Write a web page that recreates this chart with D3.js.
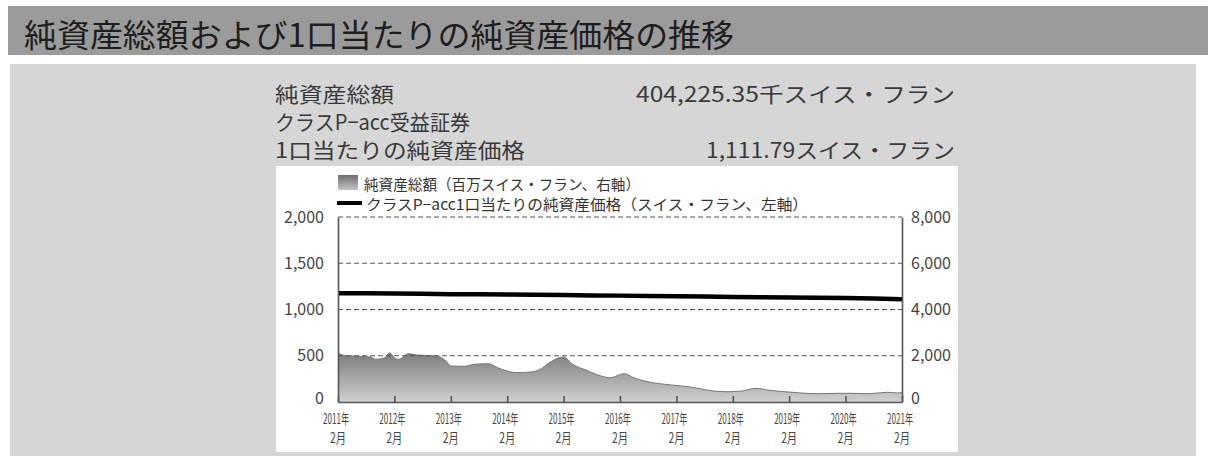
<!DOCTYPE html>
<html><head><meta charset="utf-8">
<script src="https://cdn.jsdelivr.net/npm/d3@7/dist/d3.min.js"></script>
<style>
body{margin:0;background:#fff;}
svg{display:block;font-family:"Noto Sans CJK JP","Noto Sans",sans-serif;}
</style>
</head><body>
<svg id="c" width="1208" height="468"></svg>
<script>
// ---- data ----
const titleText = "純資産総額および1口当たりの純資産価格の推移";
const infoLabels = ["純資産総額", "クラスP−acc受益証券", "1口当たりの純資産価格"];
const infoValues = ["404,225.35千スイス・フラン", "", "1,111.79スイス・フラン"];
const legendLabels = ["純資産総額（百万スイス・フラン、右軸）", "クラスP−acc1口当たりの純資産価格（スイス・フラン、左軸）"];

// net assets, million CHF (right axis)
const assetDates = ["2011-02","2011-03","2011-05","2011-09","2011-10","2011-12","2012-01","2012-02","2012-03","2012-05","2012-07","2012-11","2013-01","2013-02","2013-05","2013-07","2013-10","2013-12","2014-02","2014-04","2014-07","2014-09","2014-11","2015-02","2015-04","2015-07","2015-10","2015-12","2016-03","2016-05","2016-09","2017-01","2017-05","2017-10","2018-01","2018-04","2018-07","2018-10","2019-02","2019-08","2020-01","2020-03","2020-07","2020-11","2021-01","2021-02"];
const assetValues = [2130,2030,1990,1945,1845,1915,2130,1915,1845,2090,2030,1990,1770,1555,1545,1630,1655,1485,1340,1270,1295,1410,1700,1945,1630,1370,1125,1050,1225,1050,835,735,650,475,445,475,590,505,430,360,375,375,360,420,390,404];

// NAV per unit, CHF (left axis)
const priceDates = ["2011-02","2011-08","2012-02","2012-08","2013-02","2013-08","2014-02","2014-08","2015-02","2015-08","2016-02","2016-08","2017-02","2017-08","2018-02","2018-08","2019-02","2019-08","2020-02","2020-08","2021-02"];
const priceValues = [1176,1175,1174,1171,1166,1164,1162,1160,1158,1152,1150,1146,1143,1140,1136,1133,1130,1126,1123,1118,1112];

const xTickDates = ["2011-02","2012-02","2013-02","2014-02","2015-02","2016-02","2017-02","2018-02","2019-02","2020-02","2021-02"];
const xTickYears = ["2011年","2012年","2013年","2014年","2015年","2016年","2017年","2018年","2019年","2020年","2021年"];
const xTickMonths = ["2月","2月","2月","2月","2月","2月","2月","2月","2月","2月","2月"];
const leftTicks = [0,500,1000,1500,2000];
const rightTicks = [0,2000,4000,6000,8000];
const gridValues = [500,1000,1500,2000];

// ---- drawing ----
const parse = d3.timeParse("%Y-%m");
const svg = d3.select("#c");

// title bar
svg.append("rect").attr("x",8).attr("y",6).attr("width",1200).attr("height",49).attr("fill","#9b9b9b");
svg.append("text").attr("x",24).attr("y",33).attr("dominant-baseline","central")
  .attr("font-size",32).attr("fill","#1e1e1e").attr("textLength",710).attr("lengthAdjust","spacingAndGlyphs").text(titleText);

// panel
svg.append("rect").attr("x",10).attr("y",64).attr("width",1186).attr("height",392).attr("fill","#d6d6d6");

// info block
const infoY = [93,121,149];
const infoLW = [119,195,250];
const infoVW = [319,0,249];
infoLabels.forEach((t,i)=>{
  svg.append("text").attr("x",275).attr("y",infoY[i]).attr("dominant-baseline","central")
    .attr("font-size",21).attr("fill","#3a3a3a").attr("textLength",infoLW[i]).attr("lengthAdjust","spacingAndGlyphs").text(t);
  if(infoValues[i]) svg.append("text").attr("x",955).attr("y",infoY[i]).attr("dominant-baseline","central")
    .attr("text-anchor","end").attr("font-size",21).attr("fill","#3a3a3a")
    .attr("textLength",infoVW[i]).attr("lengthAdjust","spacingAndGlyphs").text(infoValues[i]);
});

// white chart box
svg.append("rect").attr("x",276).attr("y",166).attr("width",682).attr("height",286).attr("fill","#ffffff");

const x = d3.scaleTime().domain([parse("2011-02"),parse("2021-02")]).range([338,902]);
const yL = d3.scaleLinear().domain([0,2000]).range([402,217]);
const yR = d3.scaleLinear().domain([0,8000]).range([402,217]);

const defs = svg.append("defs");
const g1 = defs.append("linearGradient").attr("id","ag").attr("gradientUnits","userSpaceOnUse")
  .attr("x1",0).attr("y1",yR(2200)).attr("x2",0).attr("y2",yR(0));
g1.append("stop").attr("offset","0%").attr("stop-color","#7a7a7a");
g1.append("stop").attr("offset","100%").attr("stop-color","#d0d0d0");
const g2 = defs.append("linearGradient").attr("id","lg").attr("x1",0).attr("y1",0).attr("x2",0).attr("y2",1);
g2.append("stop").attr("offset","0%").attr("stop-color","#6e6e6e");
g2.append("stop").attr("offset","100%").attr("stop-color","#c4c4c4");

// area
const assetData = assetDates.map((d,i)=>({date:parse(d), v:assetValues[i]}));
svg.append("path").datum(assetData)
  .attr("d", d3.area().x(d=>x(d.date)).y0(yR(0)).y1(d=>yR(d.v)).curve(d3.curveMonotoneX))
  .attr("fill","url(#ag)");
svg.append("path").datum(assetData)
  .attr("d", d3.line().x(d=>x(d.date)).y(d=>yR(d.v)).curve(d3.curveMonotoneX))
  .attr("fill","none").attr("stroke","#777").attr("stroke-width",1);

// grid
svg.append("g").selectAll("line").data(gridValues).join("line")
  .attr("x1",338).attr("x2",902).attr("y1",d=>yL(d)).attr("y2",d=>yL(d))
  .attr("stroke","#555").attr("stroke-width",1.2).attr("stroke-dasharray","5,3");

// price line
const priceData = priceDates.map((d,i)=>({date:parse(d), v:priceValues[i]}));
svg.append("path").datum(priceData)
  .attr("d", d3.line().x(d=>x(d.date)).y(d=>yL(d.v)))
  .attr("fill","none").attr("stroke","#000").attr("stroke-width",4.5);

// axes
const axisColor = "#555";
const ax = svg.append("g").attr("transform",`translate(0,${yL(0)})`)
  .call(d3.axisBottom(x).tickValues(xTickDates.map(parse)).tickSize(-6).tickSizeOuter(0).tickFormat(""));
const al = svg.append("g").attr("transform","translate(338,0)")
  .call(d3.axisLeft(yL).tickValues(leftTicks).tickSize(0).tickPadding(14).tickFormat(d3.format(",")));
const ar = svg.append("g").attr("transform","translate(902,0)")
  .call(d3.axisRight(yR).tickValues(rightTicks).tickSize(0).tickPadding(9).tickFormat(d3.format(",")));
[ax,al,ar].forEach(a=>{
  a.selectAll("path,line").attr("stroke",axisColor).attr("stroke-width",1.6);
  a.selectAll("text").attr("font-size",16).attr("fill","#444").attr("font-family","'Noto Sans CJK JP',sans-serif");
});
al.select(".tick text").attr("dy","0.1em");
ar.select(".tick text").attr("dy","0.1em");

// x labels
const xl = svg.append("g");
xTickDates.forEach((d,i)=>{
  const px = x(parse(d));
  xl.append("text").attr("x",px-2).attr("y",418).attr("text-anchor","middle").attr("dominant-baseline","central")
    .attr("font-size",14).attr("fill","#444").attr("textLength",26).attr("lengthAdjust","spacingAndGlyphs").text(xTickYears[i]);
  xl.append("text").attr("x",px).attr("y",437).attr("text-anchor","middle").attr("dominant-baseline","central")
    .attr("font-size",14).attr("fill","#444").attr("textLength",16).attr("lengthAdjust","spacingAndGlyphs").text(xTickMonths[i]);
});

// legend
svg.append("rect").attr("x",338).attr("y",175).attr("width",20).attr("height",15).attr("fill","url(#lg)");
svg.append("text").attr("x",364).attr("y",183).attr("dominant-baseline","central")
  .attr("font-size",15).attr("fill","#333").attr("textLength",276).attr("lengthAdjust","spacingAndGlyphs").text(legendLabels[0]);
svg.append("line").attr("x1",337).attr("x2",362).attr("y1",203).attr("y2",203).attr("stroke","#000").attr("stroke-width",4);
svg.append("text").attr("x",366).attr("y",203).attr("dominant-baseline","central")
  .attr("font-size",15).attr("fill","#333").attr("textLength",442).attr("lengthAdjust","spacingAndGlyphs").text(legendLabels[1]);
</script>
</body></html>
